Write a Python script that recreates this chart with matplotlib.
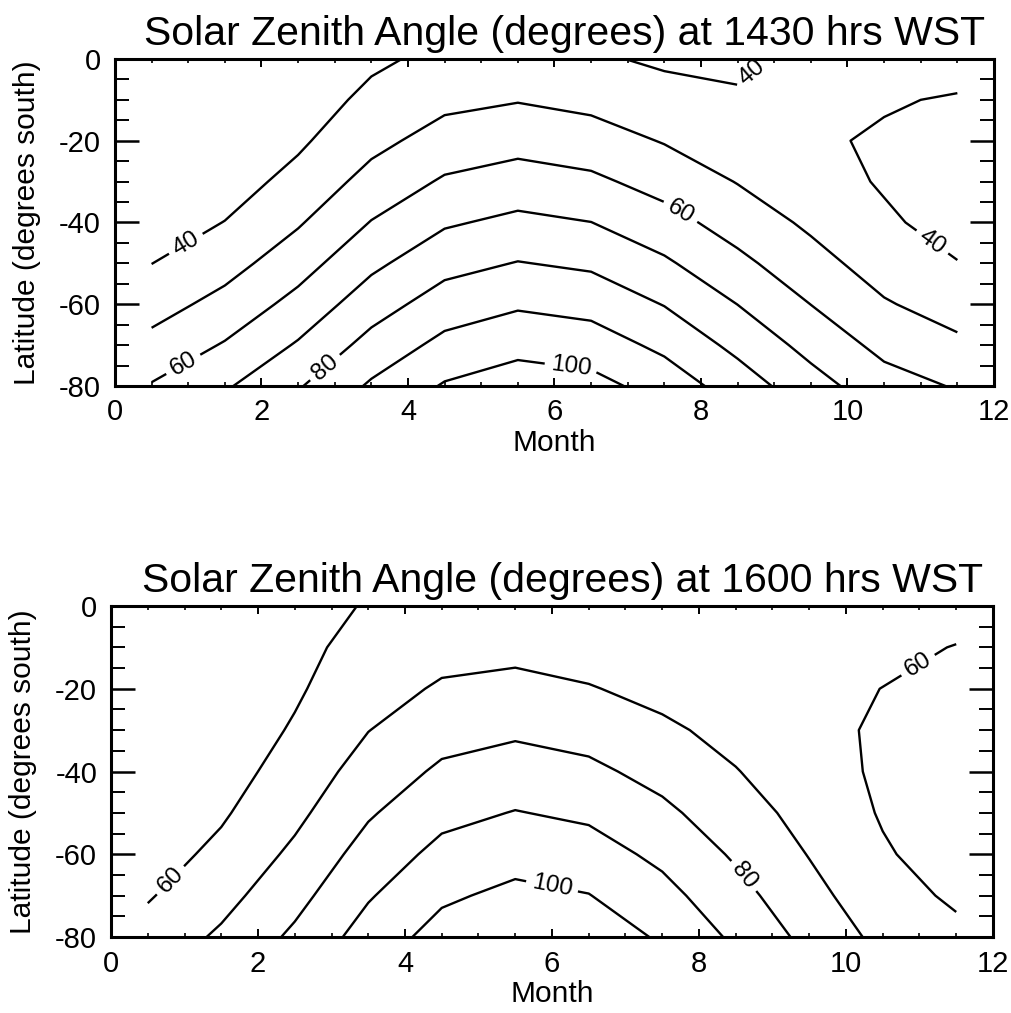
import matplotlib
matplotlib.use("Agg")
import numpy as np
import matplotlib.pyplot as plt
from matplotlib.ticker import MultipleLocator

plt.rcParams['font.family'] = ['Liberation Sans', 'DejaVu Sans']
plt.rcParams['axes.unicode_minus'] = False

# Grid: mid-month positions and latitudes (degrees south as negative)
months = [0.5, 1.5, 2.5, 3.5, 4.5, 5.5, 6.5, 7.5, 8.5, 9.5, 10.5, 11.5]
latitudes = [0, -10, -20, -30, -40, -50, -60, -70, -80]

# Solar zenith angle (degrees); one row per latitude, one column per month
sza_1430 = [
    [39.8, 36.1, 35.4, 38.5, 42.1, 43.1, 41.2, 38.6, 38.8, 41.7, 44.6, 44.1],
    [35.6, 33.3, 35.7, 42.0, 47.6, 49.5, 47.3, 43.3, 40.7, 40.5, 40.8, 39.2],
    [32.8, 33.1, 38.4, 47.2, 54.0, 56.6, 54.4, 49.4, 44.4, 41.3, 38.9, 36.0],
    [32.7, 35.7, 43.0, 53.4, 61.2, 64.3, 62.0, 56.3, 49.6, 43.9, 39.1, 35.1],
    [35.2, 40.2, 49.0, 60.4, 68.8, 72.3, 70.1, 63.7, 55.7, 48.2, 41.4, 36.6],
    [39.9, 46.2, 55.8, 67.8, 76.7, 80.4, 78.3, 71.5, 62.5, 53.6, 45.5, 40.3],
    [45.9, 53.2, 63.2, 75.5, 84.7, 88.7, 86.6, 79.6, 69.9, 59.9, 50.9, 45.6],
    [53.0, 60.8, 71.0, 83.4, 92.8, 97.0, 95.0, 87.7, 77.4, 66.8, 57.2, 52.0],
    [60.7, 68.8, 79.1, 91.4, 100.9, 105.2, 103.3, 95.9, 85.2, 74.0, 64.1, 59.2],
]

sza_1600 = [
    [59.8, 57.4, 57.8, 60.4, 62.6, 62.6, 60.9, 60.1, 61.2, 63.8, 65.3, 63.6],
    [56.4, 55.3, 57.8, 62.8, 66.6, 67.4, 65.5, 63.1, 62.3, 62.6, 62.1, 59.7],
    [53.7, 54.3, 58.8, 65.9, 71.2, 72.7, 70.6, 67.1, 64.3, 62.3, 59.9, 56.5],
    [52.2, 54.6, 60.9, 69.8, 76.3, 78.4, 76.3, 71.8, 67.0, 62.9, 58.6, 54.5],
    [52.1, 56.1, 63.9, 74.2, 81.6, 84.4, 82.1, 76.8, 70.4, 64.3, 58.4, 53.6],
    [53.2, 58.8, 67.6, 78.9, 87.2, 90.4, 88.2, 82.1, 74.4, 66.6, 59.2, 54.1],
    [55.7, 62.3, 72.0, 84.0, 92.8, 96.4, 94.3, 87.7, 78.7, 69.6, 61.0, 55.7],
    [59.2, 66.7, 76.8, 89.1, 98.4, 102.4, 100.3, 93.2, 83.4, 73.1, 63.8, 58.5],
    [63.6, 71.6, 81.9, 94.3, 103.8, 108.1, 106.1, 98.7, 88.2, 77.2, 67.3, 62.3],
]

# labelled and plain contour levels for each panel
labeled_1430 = [40, 60, 80, 100]
plain_1430 = [50, 70, 90]
labeled_1600 = [60, 80, 100]
plain_1600 = [70, 90]

title_1430 = "Solar Zenith Angle (degrees) at 1430 hrs WST"
title_1600 = "Solar Zenith Angle (degrees) at 1600 hrs WST"

# label anchor points (month, latitude) along the contours
label_pos_1430 = [(0.96, -45), (0.91, -74), (2.82, -74.5), (6.23, -74.5),
                  (7.71, -37.7), (8.67, -2.7), (11.15, -45)]
label_pos_1600 = [(0.78, -65.8), (6.0, -67.8), (8.6, -65.4), (10.96, -13.7)]

fig = plt.figure(figsize=(10.12, 10.13), dpi=100)


def draw_panel(rect, values, labeled, plain, label_pos, title):
    ax = fig.add_axes(rect)
    X, Y = np.meshgrid(months, latitudes)
    Z = np.array(values)
    ax.set_xlim(0, 12)
    ax.set_ylim(-80, 0)
    ax.contour(X, Y, Z, levels=plain, colors='k', linewidths=1.7)
    cs = ax.contour(X, Y, Z, levels=labeled, colors='k', linewidths=1.7)
    ax.set_xlim(0, 12)
    ax.set_ylim(-80, 0)

    ax.xaxis.set_major_locator(MultipleLocator(2))
    ax.xaxis.set_minor_locator(MultipleLocator(0.5))
    ax.yaxis.set_major_locator(MultipleLocator(20))
    ax.yaxis.set_minor_locator(MultipleLocator(5))
    ax.tick_params(axis='x', which='major', direction='in', length=6, width=1.4,
                   top=True, bottom=True, labelsize=21, pad=9)
    ax.tick_params(axis='x', which='minor', direction='in', length=3, width=1.2,
                   top=True, bottom=True)
    ax.tick_params(axis='y', which='major', direction='in', length=17, width=1.8,
                   left=True, right=True, labelsize=21, pad=10)
    ax.tick_params(axis='y', which='minor', direction='in', length=10, width=1.4,
                   left=True, right=True)
    for sp in ax.spines.values():
        sp.set_linewidth(2.2)

    ax.set_xlabel("Month", fontsize=21.5, labelpad=2)
    ax.set_ylabel("Latitude (degrees south)", fontsize=21.5, labelpad=13)
    ax.set_title(title, fontsize=29.5, pad=10, x=0.512)

    ax.clabel(cs, fmt='%d', fontsize=17.5, inline=True,
              inline_spacing=6, manual=label_pos)
    return ax


draw_panel([0.1136, 0.6190, 0.8686, 0.3228], sza_1430, labeled_1430,
           plain_1430, label_pos_1430, title_1430)
draw_panel([0.1097, 0.0750, 0.8715, 0.3268], sza_1600, labeled_1600,
           plain_1600, label_pos_1600, title_1600)

fig.savefig("out.png", dpi=100)
